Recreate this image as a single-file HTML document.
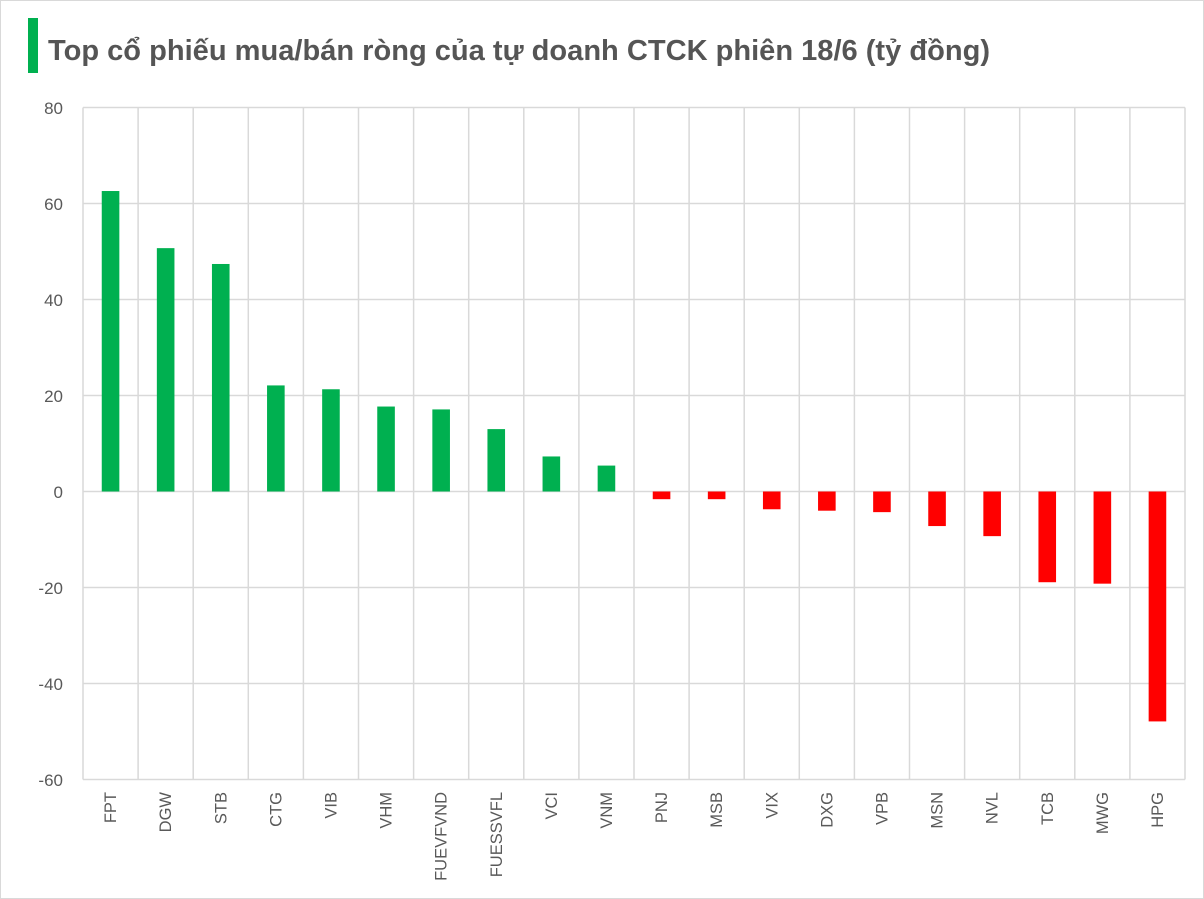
<!DOCTYPE html>
<html><head><meta charset="utf-8"><style>
html,body{margin:0;padding:0;background:#fff;}
svg{display:block;}
</style></head><body>
<svg width="1204" height="899" xmlns="http://www.w3.org/2000/svg" font-family="'Liberation Sans', 'DejaVu Sans', sans-serif">
<rect x="0.5" y="0.5" width="1203" height="898" fill="#fff" stroke="#d9d9d9"/>
<rect x="28" y="18" width="10" height="55" fill="#00b050"/>
<text x="48" y="60" font-size="28.5" font-weight="bold" fill="#555" textLength="942" lengthAdjust="spacingAndGlyphs">Top cổ phiếu mua/bán ròng của tự doanh CTCK phiên 18/6 (tỷ đồng)</text>
<g id="g"></g>
<g font-size="17" fill="#595959" text-anchor="end">
<text x="63" y="114">80</text><text x="63" y="210">60</text><text x="63" y="306">40</text><text x="63" y="402">20</text><text x="63" y="498">0</text><text x="63" y="594">-20</text><text x="63" y="690">-40</text><text x="63" y="786">-60</text>
</g>
<script>
(function(){
var ns="http://www.w3.org/2000/svg",g=document.getElementById('g');
function el(t,a,txt){var e=document.createElementNS(ns,t);for(var k in a)e.setAttribute(k,a[k]);if(txt)e.textContent=txt;g.appendChild(e);return e;}
var L=83,R=1185,T=107.5,B=779.5,n=20,w=(R-L)/n,zero=491.5,s=4.8;
for(var i=0;i<8;i++){var y=T+i*96;el('line',{x1:L,x2:R,y1:y,y2:y,stroke:'#d9d9d9','stroke-width':1.5});}
for(var i=0;i<=n;i++){var x=L+i*w;el('line',{x1:x,x2:x,y1:T,y2:B,stroke:'#d9d9d9','stroke-width':1.5});}
var d=[["FPT",62.6],["DGW",50.7],["STB",47.4],["CTG",22.1],["VIB",21.3],["VHM",17.7],["FUEVFVND",17.1],["FUESSVFL",13],["VCI",7.3],["VNM",5.4],["PNJ",-1.6],["MSB",-1.6],["VIX",-3.7],["DXG",-4],["VPB",-4.3],["MSN",-7.2],["NVL",-9.3],["TCB",-18.9],["MWG",-19.2],["HPG",-47.9]];
d.forEach(function(p,i){var c=L+(i+0.5)*w,v=p[1],h=Math.abs(v)*s;
el('rect',{x:c-8.8,y:v>0?zero-h:zero,width:17.6,height:h,fill:v>0?'#00b050':'#ff0000'});
el('text',{x:0,y:0,'font-size':16.5,fill:'#595959','text-anchor':'end',transform:'translate('+(c+5.5)+',792) rotate(-90)'},p[0]);});
})();
</script>
</svg>
</body></html>
